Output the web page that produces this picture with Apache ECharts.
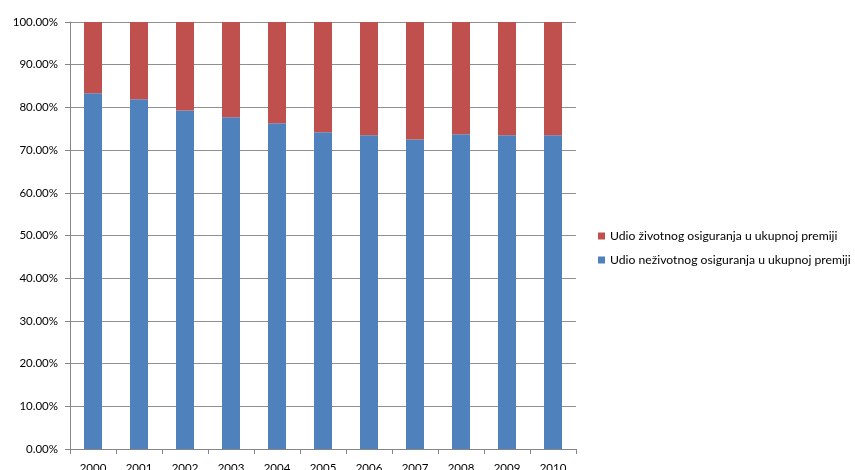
<!DOCTYPE html>
<html><head><meta charset="utf-8">
<script src="https://cdn.jsdelivr.net/npm/echarts@6/dist/echarts.min.js"></script>
<style>html,body{margin:0;padding:0;background:#fff}#c{width:855px;height:470px}</style>
</head><body><div id="c"></div>
<script>
const years = ['2000','2001','2002','2003','2004','2005','2006','2007','2008','2009','2010'];
const nezivotno = [83.3, 81.9, 79.3, 77.7, 76.3, 74.2, 73.5, 72.5, 73.7, 73.5, 73.5];
const zivotno = [16.7, 18.1, 20.7, 22.3, 23.7, 25.8, 26.5, 27.5, 26.3, 26.5, 26.5];
const seriesNames = ['Udio neživotnog osiguranja u ukupnoj premiji', 'Udio životnog osiguranja u ukupnoj premiji'];
const font = 'Lato, "Open Sans", sans-serif';
const chart = echarts.init(document.getElementById('c'));
chart.setOption({
  animation: false,
  grid: {left: 70, right: 279, top: 22, bottom: 21, outerBoundsMode: 'none', containLabel: false},
  legend: {
    data: [seriesNames[1], seriesNames[0]],
    orient: 'vertical', left: 593, top: 225,
    itemWidth: 7, itemHeight: 7, itemGap: 12, icon: 'rect',
    textStyle: {fontFamily: font, fontSize: 12.2, color: '#000'}
  },
  xAxis: {
    type: 'category', data: years,
    axisLine: {lineStyle: {color: '#868686'}},
    axisTick: {show: true, length: 5, lineStyle: {color: '#868686'}},
    axisLabel: {fontFamily: font, fontSize: 11.5, color: '#000', margin: 13}
  },
  yAxis: {
    type: 'value', min: 0, max: 100, interval: 10,
    axisLine: {show: true, lineStyle: {color: '#868686'}},
    axisTick: {show: true, length: 5, lineStyle: {color: '#868686'}},
    splitLine: {lineStyle: {color: '#8f8f8f'}},
    axisLabel: {fontFamily: font, fontSize: 11.5, color: '#000', margin: 12,
      formatter: v => v.toFixed(2) + '%'}
  },
  series: [
    {name: seriesNames[0], type: 'bar', stack: 's', data: nezivotno, barWidth: 18,
     itemStyle: {color: '#4F81BD'}},
    {name: seriesNames[1], type: 'bar', stack: 's', data: zivotno, barWidth: 18,
     itemStyle: {color: '#C0504D'}}
  ]
});
</script></body></html>
